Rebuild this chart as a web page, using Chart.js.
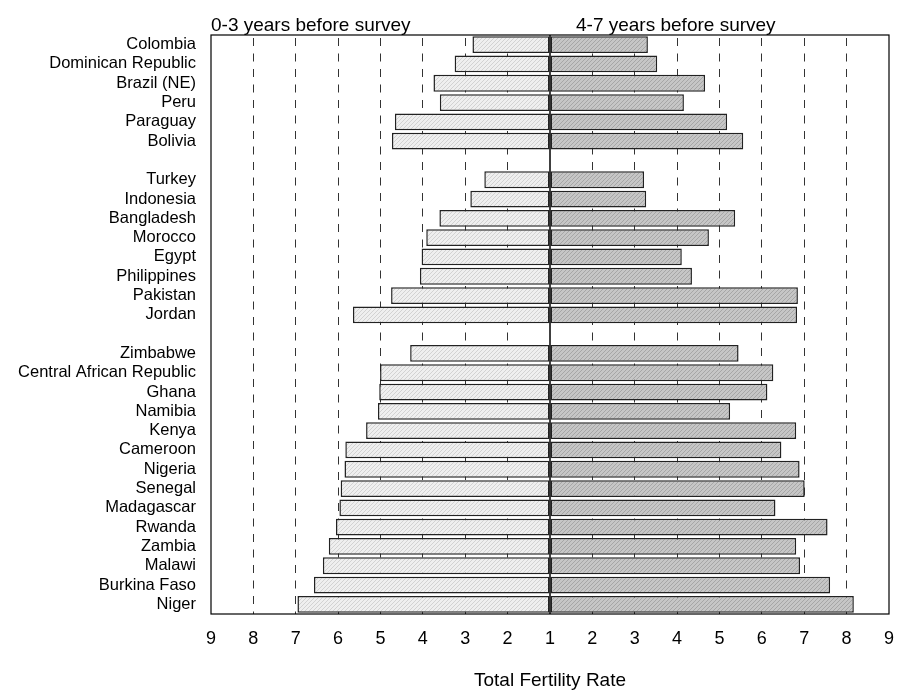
<!DOCTYPE html>
<html>
<head>
<meta charset="utf-8">
<script src="https://cdn.jsdelivr.net/npm/chart.js@4.4.1/dist/chart.umd.min.js"></script>
<style>
  html, body { margin: 0; padding: 0; background: #fff; }
  #wrap { width: 897px; height: 692px; }
</style>
</head>
<body>
<div id="wrap"><canvas id="tfrChart" width="897" height="692"></canvas></div>
<script>
// blank labels are the gaps between the three regional groups
const countries = [
  "Colombia", "Dominican Republic", "Brazil (NE)", "Peru", "Paraguay", "Bolivia",
  "",
  "Turkey", "Indonesia", "Bangladesh", "Morocco", "Egypt", "Philippines", "Pakistan", "Jordan",
  "",
  "Zimbabwe", "Central African Republic", "Ghana", "Namibia", "Kenya", "Cameroon",
  "Nigeria", "Senegal", "Madagascar", "Rwanda", "Zambia", "Malawi", "Burkina Faso", "Niger"
];

// TFR 0-3 years before survey (left side)
const recentTfr = [
  2.83, 3.25, 3.75, 3.6, 4.66, 4.73,
  null,
  2.55, 2.88, 3.61, 3.92, 4.03, 4.07, 4.75, 5.65,
  null,
  4.3, 5.01, 5.03, 5.06, 5.34, 5.83, 5.85, 5.94, 5.97, 6.05, 6.22, 6.36, 6.57, 6.96
];

// TFR 4-7 years before survey (right side)
const earlierTfr = [
  3.31, 3.53, 4.66, 4.16, 5.18, 5.56,
  null,
  3.22, 3.27, 5.37, 4.75, 4.11, 4.35, 6.85, 6.83,
  null,
  5.45, 6.27, 6.13, 5.25, 6.81, 6.46, 6.89, 7.01, 6.32, 7.55, 6.81, 6.9, 7.61, 8.17
];

const axisMin = 1;
const axisMax = 9;

function makePattern(base, line) {
  const c = document.createElement("canvas");
  c.width = 4;
  c.height = 4;
  const g = c.getContext("2d");
  g.fillStyle = base;
  g.fillRect(0, 0, 4, 4);
  g.fillStyle = line;
  for (let i = 0; i < 4; i++) {
    g.fillRect(i, 3 - i, 1, 1);
  }
  return g.createPattern(c, "repeat");
}

const ctx = document.getElementById("tfrChart").getContext("2d");
const lightFill = makePattern("#efefef", "#d2d2d2");
const darkFill = makePattern("#c6c6c6", "#a6a6a6");

// bars grow out from TFR = 1 in the middle
const leftData = recentTfr.map((v) => (v == null ? null : -(v - axisMin)));
const rightData = earlierTfr.map((v) => (v == null ? null : v - axisMin));

const framePlugin = {
  id: "frame",
  afterDatasetsDraw(chart) {
    const { ctx, chartArea } = chart;
    const mid = chart.scales.x.getPixelForValue(0);
    ctx.save();
    ctx.strokeStyle = "#000";
    ctx.lineWidth = 1.5;
    ctx.beginPath();
    ctx.moveTo(mid, chartArea.top);
    ctx.lineTo(mid, chartArea.bottom);
    ctx.stroke();
    ctx.lineWidth = 1.2;
    ctx.strokeRect(
      chartArea.left,
      chartArea.top,
      chartArea.right - chartArea.left,
      chartArea.bottom - chartArea.top
    );
    ctx.restore();
  },
  afterDraw(chart) {
    const { ctx, chartArea } = chart;
    const mid = chart.scales.x.getPixelForValue(0);
    ctx.save();
    ctx.fillStyle = "#000";
    ctx.font = "19px 'Liberation Sans', Arial, sans-serif";
    ctx.textBaseline = "alphabetic";
    ctx.textAlign = "left";
    ctx.fillText("0-3 years before survey", chartArea.left, 31);
    ctx.fillText("4-7 years before survey", mid + 26, 31);
    ctx.restore();
  },
};

new Chart(ctx, {
  type: "bar",
  data: {
    labels: countries,
    datasets: [
      {
        label: "0-3 years before survey",
        data: leftData,
        backgroundColor: lightFill,
        borderColor: "#222",
        borderWidth: 1.5,
        borderSkipped: false,
        barPercentage: 0.87,
        categoryPercentage: 1,
      },
      {
        label: "4-7 years before survey",
        data: rightData,
        backgroundColor: darkFill,
        borderColor: "#222",
        borderWidth: 1.5,
        borderSkipped: false,
        barPercentage: 0.87,
        categoryPercentage: 1,
      },
    ],
  },
  options: {
    indexAxis: "y",
    responsive: false,
    animation: false,
    devicePixelRatio: 1,
    layout: { padding: { top: 35, right: 8, bottom: 0, left: 0 } },
    plugins: {
      legend: { display: false },
      tooltip: { enabled: false },
    },
    scales: {
      x: {
        stacked: true,
        min: -(axisMax - axisMin),
        max: axisMax - axisMin,
        afterFit: (scale) => {
          scale.height = 78;
          scale.paddingLeft = 0;
          scale.paddingRight = 0;
        },
        ticks: {
          stepSize: 1,
          padding: 14,
          color: "#000",
          font: { family: "'Liberation Sans', Arial, sans-serif", size: 18 },
          callback: (v) => Math.abs(v) + axisMin,
        },
        grid: {
          drawTicks: false,
          lineWidth: 1,
          color: (c) =>
            c.tick && (c.tick.value === 0 || Math.abs(c.tick.value) === axisMax - axisMin)
              ? "rgba(0,0,0,0)"
              : "#333",
        },
        border: { display: false, dash: [8, 7.5], dashOffset: 12.5 },
        title: {
          display: true,
          text: "Total Fertility Rate",
          color: "#000",
          font: { family: "'Liberation Sans', Arial, sans-serif", size: 19 },
          padding: { top: 4, bottom: 0 },
        },
      },
      y: {
        stacked: true,
        afterFit: (scale) => {
          scale.width = 211;
        },
        ticks: {
          autoSkip: false,
          padding: 15,
          color: "#000",
          font: { family: "'Liberation Sans', Arial, sans-serif", size: 16.5 },
        },
        grid: { display: false, drawTicks: false },
        border: { display: false },
      },
    },
  },
  plugins: [framePlugin],
});
</script>
</body>
</html>
